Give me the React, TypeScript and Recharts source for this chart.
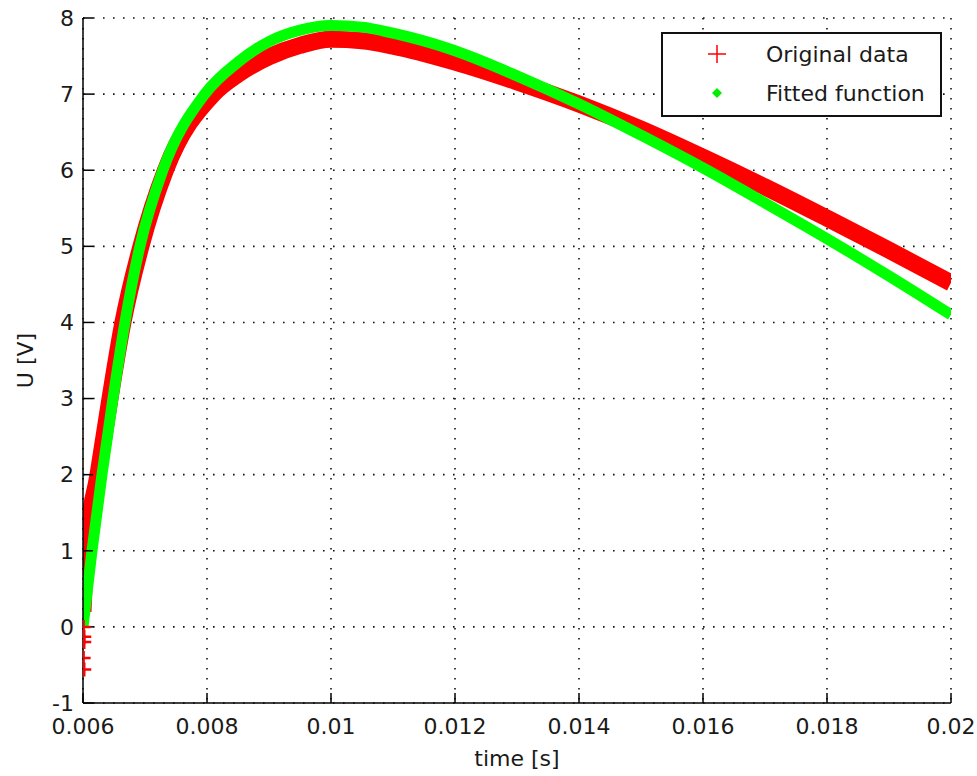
import React from 'react';
import { ComposedChart, Line, Scatter, XAxis, YAxis, CartesianGrid, Legend } from 'recharts';

const timeTicks = [0.006, 0.008, 0.01, 0.012, 0.014, 0.016, 0.018, 0.02];
const voltTicks = [-1, 0, 1, 2, 3, 4, 5, 6, 7, 8];

// measured signal, middle of the noisy band
const origTime = [0.006, 0.006048, 0.006242, 0.006435, 0.006644, 0.006934, 0.00733, 0.0081, 0.0085, 0.009, 0.0095, 0.01, 0.0105, 0.011, 0.012, 0.013, 0.014, 0.015, 0.016, 0.017, 0.018, 0.019, 0.02];
const origVolt = [0.2, 1, 2, 3, 4, 5, 6, 7, 7.26, 7.49, 7.64, 7.72, 7.7, 7.63, 7.42, 7.16, 6.87, 6.54, 6.17, 5.78, 5.37, 4.95, 4.52];

// samples below zero right at the start
const spikeTime = [0.00601, 0.00602, 0.00602, 0.00601, 0.00602];
const spikeVolt = [0, -0.13, -0.2, -0.41, -0.56];

// fitted function
const fitTime = [0.006, 0.006145, 0.006306, 0.006483, 0.006676, 0.006918, 0.007288, 0.007964, 0.0085, 0.009, 0.0095, 0.01, 0.0105, 0.011, 0.012, 0.013, 0.014, 0.015, 0.016, 0.017, 0.018, 0.019, 0.02];
const fitVolt = [0, 1, 2, 3, 4, 5, 6, 7, 7.42, 7.69, 7.84, 7.9, 7.88, 7.8, 7.57, 7.24, 6.87, 6.46, 6.03, 5.57, 5.1, 4.61, 4.1];

const origData = origTime.map((t, i) => ({ t, u: origVolt[i] }));
const spikeData = spikeTime.map((t, i) => ({ t, u: spikeVolt[i] }));
const fitData = fitTime.map((t, i) => ({ t, u: fitVolt[i] }));

const font = '"DejaVu Sans", sans-serif';
const tickStyle = { fontFamily: font, fontSize: 22, fill: '#1a1a1a' };

const PlusMark = (props: any) => {
  const { cx, cy } = props;
  return <path d={`M${cx - 7},${cy}h14M${cx},${cy - 7}v14`} stroke="#ff0000" strokeWidth={2.5} />;
};

const YLabel = (props: any) => {
  const vb = props.viewBox || { x: 0, y: 0, width: 0, height: 0 };
  const x = vb.x + 25;
  const y = vb.y + vb.height / 2;
  return (
    <text x={x} y={y} transform={`rotate(-90 ${x} ${y})`} textAnchor="middle" dominantBaseline="central"
      style={{ fontFamily: font, fontSize: 22, fill: '#1a1a1a' }}>
      U [V]
    </text>
  );
};

const LegendBox = () => (
  <div style={{ width: 281, height: 85, boxSizing: 'border-box', border: '2px solid #111', background: '#fff', position: 'relative', fontFamily: font, fontSize: 22, color: '#1a1a1a' }}>
    <svg width={281} height={85} style={{ position: 'absolute', left: -2, top: -2 }}>
      <path d="M47,22h18M56,13v18" stroke="#ff0000" strokeWidth={1.5} />
      <path d="M56,56l5,5l-5,5l-5,-5z" fill="#00ee00" />
    </svg>
    <div style={{ position: 'absolute', left: 103, top: 7, lineHeight: '28px' }}>Original data</div>
    <div style={{ position: 'absolute', left: 103, top: 46, lineHeight: '28px' }}>Fitted function</div>
  </div>
);

export default function App() {
  return (
    <div style={{ position: 'absolute', left: 0, top: 0, width: 977, height: 776, background: '#fff' }}>
      <ComposedChart width={977} height={776} margin={{ top: 18, right: 26, bottom: 33, left: 0 }}>
        <CartesianGrid stroke="#111" strokeDasharray="1.6 8.4" strokeWidth={1.6} />
        <XAxis
          dataKey="t"
          type="number"
          domain={[0.006, 0.02]}
          ticks={timeTicks}
          allowDataOverflow
          height={40}
          tickSize={-10}
          tickMargin={25}
          tick={tickStyle}
          stroke="#000"
          strokeWidth={1.5}
          label={{ value: 'time [s]', position: 'bottom', offset: 7, style: { fontFamily: font, fontSize: 22, fill: '#1a1a1a' } }}
        />
        <YAxis
          type="number"
          domain={[-1, 8]}
          ticks={voltTicks}
          allowDataOverflow
          width={83}
          tickSize={-10}
          tickMargin={19}
          tick={tickStyle}
          stroke="#000"
          strokeWidth={1.5}
          label={<YLabel />}
        />
        <Legend verticalAlign="middle" align="center" content={<LegendBox />}
          wrapperStyle={{ position: 'absolute', left: 661, top: 32, width: 281, height: 85 }} />
        <Line data={origData} dataKey="u" type="monotone" stroke="#ff0000" strokeWidth={17}
          strokeLinejoin="round" dot={false} activeDot={false} isAnimationActive={false} legendType="plus" name="Original data" />
        <Scatter data={spikeData} dataKey="u" fill="#ff0000" shape={PlusMark} isAnimationActive={false} legendType="none" />
        <Line data={fitData} dataKey="u" type="monotone" stroke="#00ff00" strokeWidth={11}
          strokeLinejoin="round" dot={false} activeDot={false} isAnimationActive={false} name="Fitted function" />
      </ComposedChart>
    </div>
  );
}
